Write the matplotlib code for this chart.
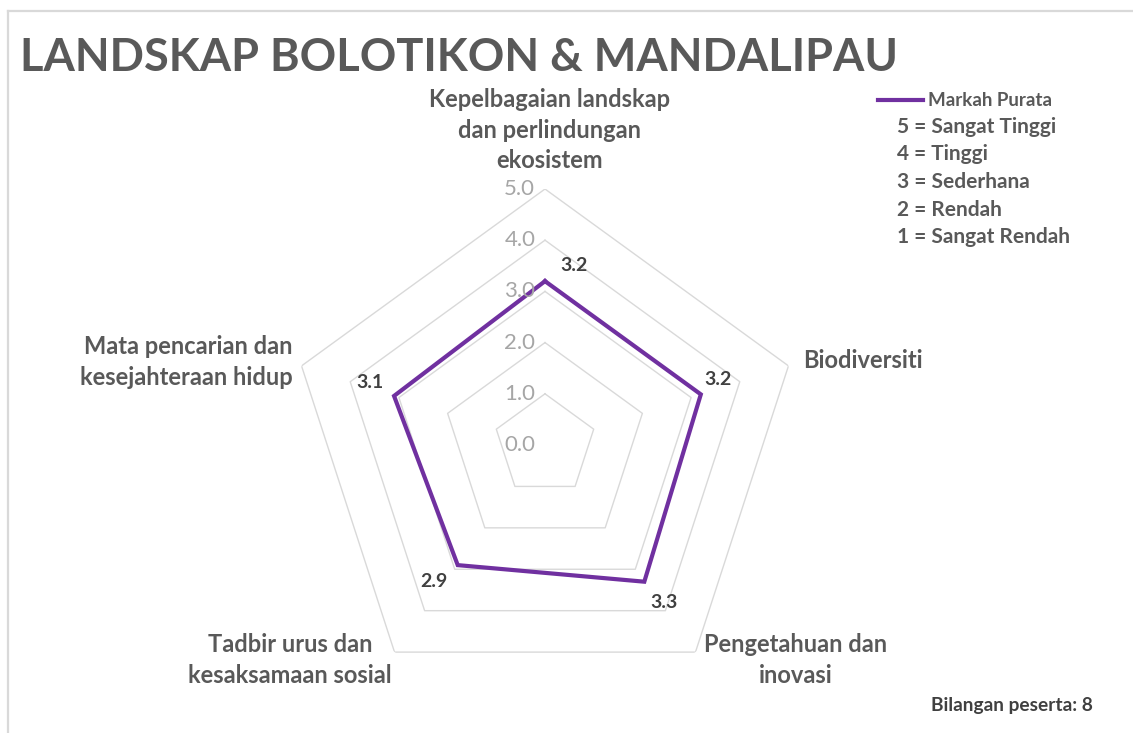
import numpy as np
import matplotlib
matplotlib.use("Agg")
import matplotlib.pyplot as plt
from matplotlib.lines import Line2D

plt.rcParams['font.family'] = ['Lato', 'DejaVu Sans']

# data
categories = ["Kepelbagaian landskap\ndan perlindungan\nekosistem",
              "Biodiversiti",
              "Pengetahuan dan\ninovasi",
              "Tadbir urus dan\nkesaksamaan sosial",
              "Mata pencarian dan\nkesejahteraan hidup"]
scores = [3.2, 3.2, 3.3, 2.9, 3.1]
grid_levels = [1, 2, 3, 4, 5]
tick_labels = ["0.0", "1.0", "2.0", "3.0", "4.0", "5.0"]
scale_notes = ["5 = Sangat Tinggi", "4 = Tinggi", "3 = Sederhana", "2 = Rendah", "1 = Sangat Rendah"]
series_name = "Markah Purata"
participants = 8

purple = "#7030A0"
grey_text = "#595959"
dark_text = "#404040"

W, H = 1133, 733
fig = plt.figure(figsize=(W / 100, H / 100), dpi=100)

# frame border like the Excel chart area
fig.add_artist(Line2D([8 / W, 8 / W], [0, 1 - 11 / H], color="#d9d9d9", lw=1.6, transform=fig.transFigure))
fig.add_artist(Line2D([8 / W, 1], [1 - 11 / H, 1 - 11 / H], color="#d9d9d9", lw=1.6, transform=fig.transFigure))

cx, cy, R = 545, 445, 256
ax = fig.add_axes([(cx - R) / W, (H - cy - R) / H, 2 * R / W, 2 * R / H], projection="polar")
ax.set_theta_offset(np.pi / 2)
ax.set_theta_direction(-1)
ax.set_ylim(0, 5)
ax.grid(False)
ax.spines["polar"].set_visible(False)
ax.set_xticks([])
ax.set_yticks([])
ax.patch.set_alpha(0)

n = len(categories)
angles = np.linspace(0, 2 * np.pi, n, endpoint=False)
closed = np.append(angles, angles[0])

for lv in grid_levels:
    ax.plot(closed, [lv] * (n + 1), color="#d9d9d9", lw=1.0, zorder=1)

vals = scores + scores[:1]
ax.plot(closed, vals, color=purple, lw=3.0, zorder=3, solid_joinstyle="miter")

# radial tick labels along the top spoke
for i, t in enumerate(tick_labels):
    ax.annotate(t, (0, i), xytext=(-7, 0), textcoords="offset points",
                ha="right", va="center", fontsize=16, color="#a6a6a6")

# data labels
offsets = [(21, 11), (12, 11), (14, -15), (-17, -12), (-17, 10)]
for a, v, off in zip(angles, scores, offsets):
    ax.annotate(f"{v:.1f}", (a, v), xytext=off, textcoords="offset points",
                ha="center", va="center", fontsize=14, fontweight="bold", color=dark_text)

# category labels
lab_pos = [(550, 130, "center"), (803, 360, "left"), (796, 660, "center"),
           (290, 660, "center"), (293, 362, "right")]
for c, (x, y, ha) in zip(categories, lab_pos):
    fig.text(x / W, 1 - y / H, c, ha=ha, va="center", fontsize=17, fontweight="bold",
             color=grey_text, linespacing=1.42)

fig.text(20 / W, 1 - 58 / H, "LANDSKAP BOLOTIKON & MANDALIPAU", ha="left", va="center",
         fontsize=32.5, fontweight="bold", color=grey_text)

# legend
fig.add_artist(Line2D([878 / W, 923 / W], [1 - 100 / H, 1 - 100 / H], color=purple, lw=3.0,
                      transform=fig.transFigure))
fig.text(928 / W, 1 - 100 / H, series_name, ha="left", va="center", fontsize=13.5,
         fontweight="bold", color=grey_text)
for i, s in enumerate(scale_notes):
    fig.text(897 / W, 1 - (127 + 27.5 * i) / H, s, ha="left", va="center", fontsize=15,
             fontweight="bold", color=grey_text)

fig.text(1093 / W, 1 - 706 / H, f"Bilangan peserta: {participants}", ha="right", va="center",
         fontsize=13.8, fontweight="bold", color=dark_text)

fig.savefig("out.png", dpi=100)
